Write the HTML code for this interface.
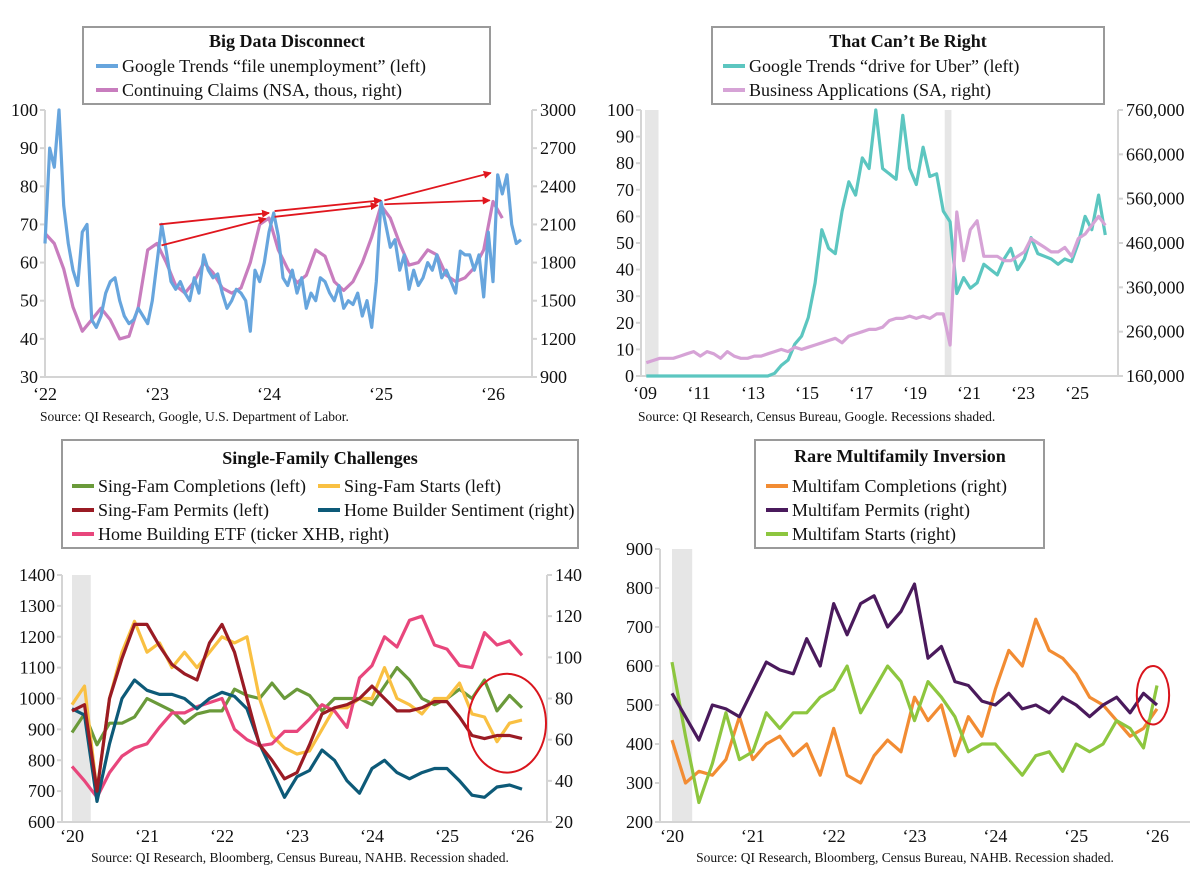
<!DOCTYPE html>
<html><head><meta charset="utf-8"><style>
html,body{margin:0;padding:0;background:#fff;}
svg{display:block;font-family:"Liberation Serif",serif;}
</style></head><body>
<svg id="c" width="1200" height="876" viewBox="0 0 1200 876"></svg>
<script>
// ---------- Panel 1 data ----------
const p1Google = [65,90,85,100,75,65,58,54,68,70,45,43,46,52,55,56,50,46,44,45,48,46,44,50,
 60,70,63,55,53,55,52,50,56,52,62,58,56,57,52,48,50,53,52,50,42,58,55,60,
 68,73,67,56,54,58,52,56,48,52,50,56,55,52,50,54,48,50,49,52,46,50,43,55,
 76,70,64,66,58,62,53,58,54,56,60,58,62,56,58,55,52,63,62,62,58,62,51,68,
 55,83,78,83,70,65,66];
const p1Claims = [2030,1950,1750,1450,1260,1350,1440,1350,1200,1220,1450,1900,
 1950,1800,1620,1560,1650,1800,1720,1600,1560,1600,1800,2100,
 2150,1900,1750,1640,1700,1900,1850,1650,1580,1650,1800,2000,
 2250,2150,1950,1780,1800,1900,1860,1700,1650,1680,1760,1900,
 2280,2150];
const p1Arrows = [[2023.02,70,2024.0,73],[2023.04,64.5,2023.97,71.5],[2024.05,73.5,2025.0,76.3],[2024.05,72,2024.97,75],[2025.03,76.3,2025.98,83.5],[2025.03,75.3,2025.97,76.3]];
const p1LeftTicks = [30,40,50,60,70,80,90,100];
const p1RightTicks = [900,1200,1500,1800,2100,2400,2700,3000];
const p1XTicks = [2022,2023,2024,2025,2026];
const p1XLabels = ["‘22","‘23","‘24","‘25","‘26"];
// ---------- Panel 2 data ----------
const p2Uber = [0,0,0,0, 0,0,0,0, 0,0,0,0, 0,0,0,0, 0,0,0,1, 4,6,12,15, 22,35,55,48, 46,62,73,68, 82,78,100,78, 76,74,98,78, 72,86,75,76, 62,58,31,37, 33,35,42,40, 38,44,48,40, 44,52,46,45, 44,42,44,43, 50,60,55,68, 53];
const p2Apps = [190000,195000,200000,200000, 200000,205000,210000,215000, 205000,215000,210000,200000, 215000,205000,200000,200000, 205000,205000,210000,215000, 220000,215000,225000,220000, 225000,230000,235000,240000, 245000,235000,250000,255000, 260000,265000,265000,270000, 285000,290000,290000,295000, 290000,295000,290000,300000, 300000,230000,530000,420000, 490000,510000,430000,430000, 430000,420000,420000,430000, 440000,470000,460000,450000, 440000,440000,450000,430000, 470000,480000,500000,520000, 500000];
const p2Recessions = [[2009.0,2009.5],[2020.1,2020.35]];
const p2LeftTicks = [0,10,20,30,40,50,60,70,80,90,100];
const p2RightTicks = [160000,260000,360000,460000,560000,660000,760000];
const p2XTicks = [2009,2011,2013,2015,2017,2019,2021,2023,2025];
const p2XLabels = ["‘09","‘11","‘13","‘15","‘17","‘19","‘21","‘23","‘25"];
// ---------- Panel 3 data ----------
const p3Completions = [890,950,850,920,920,940, 1000,980,960,920,950,960, 960,1030,1010,1000,1050,1000, 1030,1010,960,1000,1000,1000, 980,1040,1100,1060,1000,980, 1000,1030,1000,1060,960,1010, 970];
const p3Starts = [980,1040,700,1000,1150,1250, 1150,1180,1100,1150,1100,1150, 1200,1180,1200,1000,880,840, 820,830,900,970,970,1000, 1000,1100,1000,980,950,1000, 1000,1050,950,940,860,920, 930];
const p3Permits = [960,980,700,1000,1130,1240, 1240,1170,1110,1080,1060,1180, 1240,1150,1000,850,800,740, 760,850,950,970,980,1000, 1040,1000,960,960,970,990, 990,940,880,870,880,880, 870];
const p3Sentiment = [75,72,30,58,80,89, 84,82,82,80,75,80, 83,81,75,58,45,32, 42,45,55,50,40,34, 46,50,44,41,44,46, 46,40,33,32,37,38, 36];
const p3XHB = [47,40,32,44,52,56, 58,66,73,73,76,78, 80,65,60,57,58,64, 64,70,77,74,66,90, 96,110,105,118,120,106, 104,96,95,112,106,108, 101];
const p3Recessions = [[2020.0,2020.25]];
const p3LeftTicks = [600,700,800,900,1000,1100,1200,1300,1400];
const p3RightTicks = [20,40,60,80,100,120,140];
const p3XTicks = [2020,2021,2022,2023,2024,2025,2026];
const p3XLabels = ["‘20","‘21","‘22","‘23","‘24","‘25","‘26"];
// ---------- Panel 4 data ----------
const p4Completions = [410,300,330,320,360,470, 360,400,420,370,400,320, 440,320,300,370,410,380, 520,460,500,370,470,420, 540,640,600,720,640,620, 580,520,500,460,420,440, 490];
const p4Permits = [530,470,410,500,490,470, 540,610,590,580,670,600, 760,680,760,780,700,740, 810,620,650,560,550,510, 500,530,490,500,480,520, 500,470,500,520,480,530, 500];
const p4Starts = [610,420,250,350,480,360, 380,480,440,480,480,520, 540,600,480,540,600,560, 460,560,520,470,380,400, 400,360,320,370,380,330, 400,380,400,460,440,390, 550];
const p4Recessions = [[2020.0,2020.25]];
const p4Ticks = [200,300,400,500,600,700,800,900];
const p4XTicks = [2020,2021,2022,2023,2024,2025,2026];
const p4XLabels = ["‘20","‘21","‘22","‘23","‘24","‘25","‘26"];

const NS="http://www.w3.org/2000/svg";
const svg=document.getElementById('c');
function lin(d0,d1,p0,p1){return v=>p0+(v-d0)/(d1-d0)*(p1-p0);}
function mk(tag,attrs,parent){const e=document.createElementNS(NS,tag);for(const k in attrs)e.setAttribute(k,attrs[k]);(parent||svg).appendChild(e);return e;}
function txt(s,x,y,anchor,size,parent,weight){const t=mk('text',{x:x,y:y,'text-anchor':anchor,'font-size':size,fill:'#111'},parent);if(weight)t.setAttribute('font-weight',weight);t.textContent=s;return t;}

function axes(g,o){
  mk('line',{x1:o.xL,y1:o.top,x2:o.xL,y2:o.bot,stroke:'#d4d4d4','stroke-width':2},g);
  mk('line',{x1:o.xL,y1:o.bot,x2:o.xEnd,y2:o.bot,stroke:'#d4d4d4','stroke-width':2},g);
  if(o.xR){mk('line',{x1:o.xR,y1:o.top,x2:o.xR,y2:o.bot,stroke:'#d4d4d4','stroke-width':2},g);}
  o.lt.forEach(v=>{const y=o.yl(v);
    mk('line',{x1:o.xL-5,y1:y,x2:o.xL,y2:y,stroke:'#d4d4d4','stroke-width':2},g);
    const t=txt(String(v),o.xL-7,y+6,'end',18,g);
    
    });
  if(o.rt){o.rt.forEach(v=>{const y=o.yr(v);
    mk('line',{x1:o.xR,y1:y,x2:o.xR+5,y2:y,stroke:'#d4d4d4','stroke-width':2},g);
    const t=txt(o.rfmt?o.rfmt(v):String(v),o.xR+8,y+6,'start',18,g);
    
    });}
  o.xt.forEach((v,i)=>{const x=o.x(v);
    const t=txt(o.xl[i],x,o.bot+(o.xoff||20),'middle',18,g);
    
    });
}
function recess(g,list,x,top,bot){list.forEach(r=>{const e=mk('rect',{x:x(r[0]),y:top,width:x(r[1])-x(r[0]),height:bot-top,fill:'#e6e6e6'},g);
  
  });}
function line(g,vals,dateFn,x,y,color,name,w){
  const d=vals.map((v,i)=>(i?'L':'M')+x(dateFn(i)).toFixed(1)+','+y(v).toFixed(1)).join('');
  const p=mk('path',{d:d,fill:'none',stroke:color,'stroke-width':w||3.2,'stroke-linejoin':'round'},g);
  
  
}
function legend(g,box,title,tx,ty,items){
  const r=mk('rect',{x:box[0],y:box[1],width:box[2],height:box[3],fill:'#fff',stroke:'#9a9a9a','stroke-width':2},g);
  
  
  const t=txt(title,tx,ty,'middle',18,g,'bold');
  
  
  items.forEach(it=>{
    mk('line',{x1:it[0],y1:it[1],x2:it[0]+22,y2:it[1],stroke:it[2],'stroke-width':4},g);
    const e=txt(it[3],it[0]+26,it[1]+6,'start',18,g);
    
    
  });
}
function source(g,s,x,y,anchor){const t=txt(s,x,y,anchor,13.5,g);
  
  }
function circle(g,x,y,cx,cy,dx,dy){
  const c=mk('ellipse',{cx:x(cx),cy:y(cy),rx:Math.abs(x(cx+dx)-x(cx)),ry:Math.abs(y(cy+dy)-y(cy)),fill:'none',stroke:'#d9151d','stroke-width':2},g);
  
  
}
const comma=v=>v.toLocaleString('en-US');

// ===== Panel 1 =====
(function(){
  const g=mk('g',{});
  
  
  const x=lin(2022,2026,45,493), yl=lin(30,100,377,110), yr=lin(900,3000,377,110);
  axes(g,{xL:45,xR:532,xEnd:532,top:110,bot:377,xoff:23,yl:yl,yr:yr,lt:p1LeftTicks,rt:p1RightTicks,x:x,xt:p1XTicks,xl:p1XLabels});
  line(g,p1Claims,i=>2022+i/12,x,yr,'#c87dbe','claims-line');
  line(g,p1Google,i=>2022+i/24,x,yl,'#67a5dd','google-trends-line');
  const defs=mk('defs',{},g);
  const m=mk('marker',{id:'ah',markerWidth:8,markerHeight:8,refX:7,refY:4,orient:'auto',markerUnits:'userSpaceOnUse'},defs);
  mk('path',{d:'M0,0L8,4L0,8Z',fill:'#e0161e'},m);
  p1Arrows.forEach(a=>{const l=mk('line',{x1:x(a[0]),y1:yl(a[1]),x2:x(a[2]),y2:yl(a[3]),stroke:'#e0161e','stroke-width':1.8,'marker-end':'url(#ah)'},g);
    
    });
  legend(g,[83,27,407,77],'Big Data Disconnect',287,47,[[96,66,'#67a5dd','Google Trends “file unemployment” (left)'],[96,90,'#c87dbe','Continuing Claims (NSA, thous, right)']]);
  source(g,'Source: QI Research, Google, U.S. Department of Labor.',40,421,'start');
})();

// ===== Panel 2 =====
(function(){
  const g=mk('g',{});
  
  
  const x=lin(2009,2025,645,1077), yl=lin(0,100,376,110), yr=lin(160000,760000,376,110);
  recess(g,p2Recessions,x,110,376);
  axes(g,{xL:641,xR:1118,xEnd:1118,top:110,bot:376,xoff:23,yl:yl,yr:yr,lt:p2LeftTicks,rt:p2RightTicks,rfmt:comma,x:x,xt:p2XTicks,xl:p2XLabels});
  line(g,p2Uber,i=>2009+i/4+0.05,x,yl,'#5cc6c0','uber-trends-line');
  line(g,p2Apps,i=>2009+i/4+0.05,x,yr,'#d6a3d6','business-applications-line');
  legend(g,[712,27,392,77],'That Can’t Be Right',908,47,[[723,66,'#5cc6c0','Google Trends “drive for Uber” (left)'],[723,90,'#d6a3d6','Business Applications (SA, right)']]);
  source(g,'Source: QI Research, Census Bureau, Google. Recessions shaded.',638,421,'start');
})();

// ===== Panel 3 =====
(function(){
  const g=mk('g',{});
  
  
  const x=lin(2020,2026,72,522), yl=lin(600,1400,822,575), yr=lin(20,140,822,575);
  recess(g,p3Recessions,x,575,822);
  axes(g,{xL:62,xR:547,xEnd:547,top:575,bot:822,yl:yl,yr:yr,lt:p3LeftTicks,rt:p3RightTicks,x:x,xt:p3XTicks,xl:p3XLabels});
  const d=i=>2020+i/6;
  line(g,p3Completions,d,x,yl,'#6a9a3a','sf-completions-line');
  line(g,p3Starts,d,x,yl,'#f9c042','sf-starts-line');
  line(g,p3XHB,d,x,yr,'#e8467c','xhb-line');
  line(g,p3Sentiment,d,x,yr,'#0d5a78','builder-sentiment-line');
  line(g,p3Permits,d,x,yl,'#9a1b24','sf-permits-line');
  circle(g,x,yl,2025.8,920,0.52,160);
  legend(g,[62,440,516,108],'Single-Family Challenges',320,464,[[72,486,'#6a9a3a','Sing-Fam Completions (left)'],[318,486,'#f9c042','Sing-Fam Starts (left)'],[72,510,'#9a1b24','Sing-Fam Permits (left)'],[318,510,'#0d5a78','Home Builder Sentiment (right)'],[72,534,'#e8467c','Home Building ETF (ticker XHB, right)']]);
  source(g,'Source: QI Research, Bloomberg, Census Bureau, NAHB. Recession shaded.',300,862,'middle');
})();

// ===== Panel 4 =====
(function(){
  const g=mk('g',{});
  
  
  const x=lin(2020,2026,672,1157), y=lin(200,900,822,549);
  recess(g,p4Recessions,x,549,822);
  axes(g,{xL:660,xEnd:1190,top:549,bot:822,yl:y,lt:p4Ticks,x:x,xt:p4XTicks,xl:p4XLabels});
  const d=i=>2020+i/6;
  line(g,p4Completions,d,x,y,'#f28c33','mf-completions-line');
  line(g,p4Starts,d,x,y,'#8dc63f','mf-starts-line');
  line(g,p4Permits,d,x,y,'#4a1a5c','mf-permits-line');
  circle(g,x,y,2025.95,525,0.2,75);
  legend(g,[755,440,289,108],'Rare Multifamily Inversion',900,462,[[766,486,'#f28c33','Multifam Completions (right)'],[766,510,'#4a1a5c','Multifam Permits (right)'],[766,534,'#8dc63f','Multifam Starts (right)']]);
  source(g,'Source: QI Research, Bloomberg, Census Bureau, NAHB. Recession shaded.',905,862,'middle');
})();
</script>
</body></html>
